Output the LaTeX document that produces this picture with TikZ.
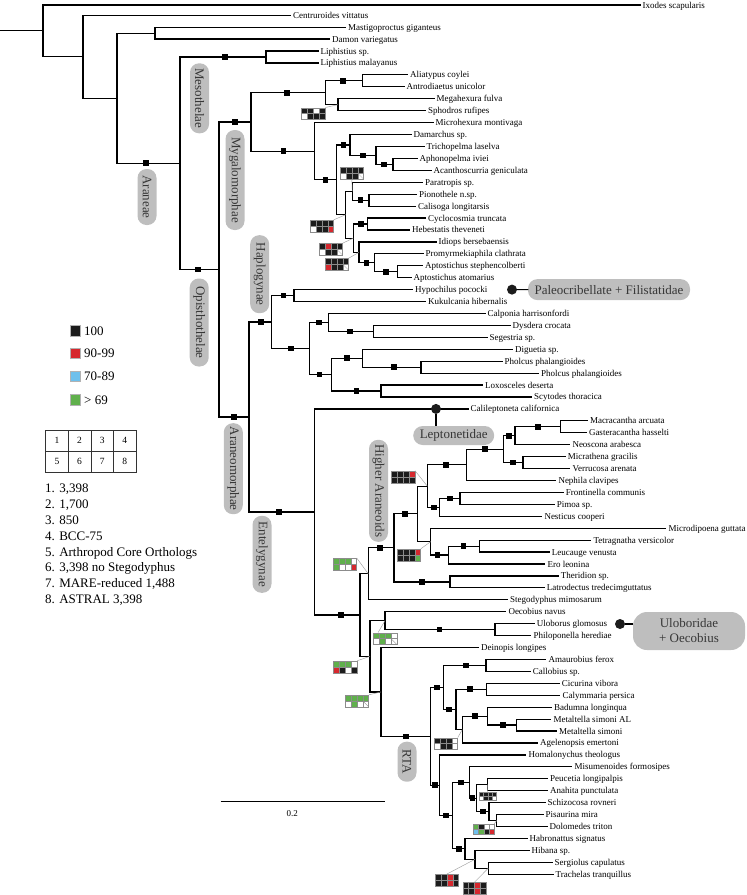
\documentclass[tikz,border=0pt]{standalone}
\usepackage{fontspec}
\setmainfont{Liberation Serif}
\usetikzlibrary{calc}
\definecolor{hK}{RGB}{28,28,28}
\definecolor{hR}{RGB}{214,40,46}
\definecolor{hB}{RGB}{110,192,236}
\definecolor{hG}{RGB}{96,176,76}
\definecolor{hW}{RGB}{255,255,255}
\definecolor{labgray}{RGB}{190,190,190}
\definecolor{labtext}{RGB}{55,55,55}
\definecolor{hmline}{RGB}{140,140,140}
\newcommand\leaf[4]{\coordinate (#1) at (#3,{3.3+(#2-1)*11.93}); \node[lab] (t#1) at (#1) {#4};}
\newcommand\leafy[4]{\coordinate (#1) at (#3,#2); \node[lab] (t#1) at (#1) {#4};}
\newcommand\inode[4]{\path let \p1=($(#3)!0.5!(#4)$) in coordinate (#1) at (#2pt,\y1); \draw[br] (#3) -- (#3 -| #1) -- (#4 -| #1) -- (#4);}
\newcommand\sqm[2]{\path let \p1=(#1) in node[sqn] (s#1) at (#2pt,\y1) {};}
\newcommand\hm[6]{%
 \node[inner sep=0pt, minimum width={4*#4}, minimum height={2*#4}] (#1) at ({#2+2*#4},{#3+#4}) {};
 \foreach \cc [count=\i from 0] in {#5} {
   \filldraw[fill=\cc, draw=hmline, line width=0.3] ({#2+mod(\i,4)*#4},{#3+int(\i/4)*#4}) rectangle ++(#4,#4);
 }
 \ifnum#6=1 \draw[hmline, line width=0.3] ({#2+3*#4},{#3+#4}) -- ++(#4,#4);\fi
}
\begin{document}
\begin{tikzpicture}[x=1pt,y=-1pt,
 br/.style={line width=1.2pt, line cap=rect},
 lab/.style={anchor=base west, inner sep=0pt, xshift=2.5pt, yshift=-3pt, font=\fontsize{9}{10}\selectfont},
 sqn/.style={fill=black, inner sep=0pt, minimum size=5.6pt},
 cn/.style={draw=gray!75, line width=0.45pt},
 clab/.style={fill=labgray, rounded corners=9pt, inner sep=0pt, minimum height=19pt, text=labtext, font=\fontsize{13}{13}\selectfont, rotate=-90},
 hlab/.style={fill=labgray, rounded corners=9.5pt, inner sep=0pt, minimum height=19pt, text=labtext, font=\fontsize{13}{15}\selectfont},
 dot/.style={circle, fill=hK, inner sep=0pt, minimum size=10pt},
 lsq/.style={inner sep=0pt, minimum size=10.5pt, draw=gray!60, line width=0.3pt},
 ltx/.style={anchor=base west, inner sep=0pt, font=\fontsize{13}{15}\selectfont},
 gcell/.style={draw=black!80, line width=0.8pt, minimum width=22.6pt, minimum height=21pt, inner sep=0pt, font=\fontsize{9.5}{10}\selectfont}
]
\useasboundingbox (0,0) rectangle (747,895);
% leaves
\leafy{l1}{5}{640}{Ixodes scapularis}
\leaf{l2}{2}{290.5}{Centruroides vittatus}
\leaf{l3}{3}{345.5}{Mastigoproctus giganteus}
\leaf{l4}{4}{329.5}{Damon variegatus}
\leaf{l5}{5}{318}{Liphistius sp.}
\leaf{l6}{6}{318}{Liphistius malayanus}
\leaf{l7}{7}{407.5}{Aliatypus coylei}
\leaf{l8}{8}{404}{Antrodiaetus unicolor}
\leaf{l9}{9}{434}{Megahexura fulva}
\leaf{l10}{10}{425.5}{Sphodros rufipes}
\leaf{l11}{11}{433}{Microhexura montivaga}
\leaf{l12}{12}{411}{Damarchus sp.}
\leaf{l13}{13}{424}{Trichopelma laselva}
\leaf{l14}{14}{417}{Aphonopelma iviei}
\leaf{l15}{15}{431}{Acanthoscurria geniculata}
\leaf{l16}{16}{422.5}{Paratropis sp.}
\leaf{l17}{17}{416.5}{Pionothele n.sp.}
\leaf{l18}{18}{415.5}{Calisoga longitarsis}
\leaf{l19}{19}{425.5}{Cyclocosmia truncata}
\leaf{l20}{20}{409.5}{Hebestatis theveneti}
\leaf{l21}{21}{436}{Idiops bersebaensis}
\leaf{l22}{22}{423}{Promyrmekiaphila clathrata}
\leaf{l23}{23}{422.5}{Aptostichus stephencolberti}
\leaf{l24}{24}{411}{Aptostichus atomarius}
\leaf{l25}{25}{412.5}{Hypochilus pococki}
\leaf{l26}{26}{425.5}{Kukulcania hibernalis}
\leaf{l27}{27}{485}{Calponia harrisonfordi}
\leaf{l28}{28}{510}{Dysdera crocata}
\leaf{l29}{29}{487}{Segestria sp.}
\leaf{l30}{30}{512.5}{Diguetia sp.}
\leaf{l31}{31}{502}{Pholcus phalangioides}
\leaf{l32}{32}{538.5}{Pholcus phalangioides}
\leaf{l33}{33}{482.5}{Loxosceles deserta}
\leaf{l34}{34}{531.5}{Scytodes thoracica}
\leaf{l35}{35}{468}{Calileptoneta californica}
\leaf{l36}{36}{587.3}{Macracantha arcuata}
\leaf{l37}{37}{586.3}{Gasteracantha hasselti}
\leaf{l38}{38}{569.8}{Neoscona arabesca}
\leaf{l39}{39}{565.2}{Micrathena gracilis}
\leaf{l40}{40}{569.8}{Verrucosa arenata}
\leaf{l41}{41}{555.8}{Nephila clavipes}
\leaf{l42}{42}{563.2}{Frontinella communis}
\leaf{l43}{43}{554.2}{Pimoa sp.}
\leaf{l44}{44}{541.8}{Nesticus cooperi}
\leaf{l45}{45}{665.8}{Microdipoena guttata}
\leaf{l46}{46}{590.8}{Tetragnatha versicolor}
\leaf{l47}{47}{549.2}{Leucauge venusta}
\leaf{l48}{48}{544.8}{Ero leonina}
\leaf{l49}{49}{558.2}{Theridion sp.}
\leaf{l50}{50}{544.2}{Latrodectus tredecimguttatus}
\leaf{l51}{51}{507.5}{Stegodyphus mimosarum}
\leaf{l52}{52}{505.8}{Oecobius navus}
\leaf{l53}{53}{534.2}{Uloborus glomosus}
\leaf{l54}{54}{530.8}{Philoponella herediae}
\leaf{l55}{55}{478.5}{Deinopis longipes}
\leaf{l56}{56}{545.8}{Amaurobius ferox}
\leaf{l57}{57}{530.2}{Callobius sp.}
\leaf{l58}{58}{559.2}{Cicurina vibora}
\leaf{l59}{59}{559.8}{Calymmaria persica}
\leaf{l60}{60}{551.5}{Badumna longinqua}
\leaf{l61}{61}{550.8}{Metaltella simoni AL}
\leaf{l62}{62}{556.5}{Metaltella simoni}
\leaf{l63}{63}{537.5}{Agelenopsis emertoni}
\leaf{l64}{64}{525.8}{Homalonychus theologus}
\leaf{l65}{65}{571.8}{Misumenoides formosipes}
\leaf{l66}{66}{547.5}{Peucetia longipalpis}
\leaf{l67}{67}{547.5}{Anahita punctulata}
\leaf{l68}{68}{545}{Schizocosa rovneri}
\leaf{l69}{69}{543}{Pisaurina mira}
\leaf{l70}{70}{547}{Dolomedes triton}
\leaf{l71}{71}{527}{Habronattus signatus}
\leaf{l72}{72}{529}{Hibana sp.}
\leaf{l73}{73}{552}{Sergiolus capulatus}
\leaf{l74}{74}{553}{Trachelas tranquillus}
% internal nodes
\inode{nmd}{155}{l3}{l4}
\inode{nliph}{266}{l5}{l6}
\inode{nali}{362.3}{l7}{l8}
\inode{nmeg}{338}{l9}{l10}
\inode{nmya}{325.7}{nali}{nmeg}
\inode{naph}{393}{l14}{l15}
\inode{ntri}{376}{l13}{naph}
\inode{ndam}{350}{l12}{ntri}
\inode{npio}{369}{l17}{l18}
\inode{npar}{352.3}{l16}{npio}
\inode{ncyc}{367.3}{l19}{l20}
\inode{napt}{397.3}{l23}{l24}
\inode{npro}{374.3}{l22}{napt}
\inode{nidi}{359}{l21}{npro}
\inode{nci}{353.3}{ncyc}{nidi}
\inode{nll}{345.7}{npar}{nci}
\inode{nbig}{336.7}{ndam}{nll}
\inode{nmyb}{314.7}{l11}{nbig}
\inode{nmyg}{251}{nmya}{nmyb}
\inode{nhyp}{294}{l25}{l26}
\inode{ndys}{373.3}{l28}{l29}
\inode{ncal}{328.3}{l27}{ndys}
\inode{npho}{421}{l31}{l32}
\inode{ndp}{362.5}{l30}{npho}
\inode{nls}{381}{l33}{l34}
\inode{nds}{331.6}{ndp}{nls}
\inode{noth}{309.5}{ncal}{nds}
\inode{nhap}{271.7}{nhyp}{noth}
\inode{nmac}{560.7}{l36}{l37}
\inode{nneo}{515}{nmac}{l38}
\inode{nmic}{523}{l39}{l40}
\inode{narn}{503.5}{nneo}{nmic}
\inode{nneph}{466.7}{narn}{l41}
\inode{nfp}{460}{l42}{l43}
\inode{nlin}{439.3}{nfp}{l44}
\inode{nal}{427.3}{nneph}{nlin}
\inode{ntec}{479.3}{l46}{l47}
\inode{nteb}{448.3}{ntec}{l48}
\inode{ntet}{430.7}{l45}{nteb}
\inode{nar}{417.3}{nal}{ntet}
\inode{nthe}{450}{l49}{l50}
\inode{nha}{394}{nar}{nthe}
\inode{nup}{368.3}{nha}{l51}
\inode{nulo}{495}{l53}{l54}
\inode{noec}{385}{l52}{nulo}
\inode{nam}{486}{l56}{l57}
\inode{ncic}{486.7}{l58}{l59}
\inode{nmet}{516.7}{l61}{l62}
\inode{nbad}{487.3}{l60}{nmet}
\inode{nbag}{462.3}{nbad}{l63}
\inode{ncb}{456}{ncic}{nbag}
\inode{nru}{443.3}{nam}{ncb}
\inode{npea}{487.3}{l66}{l67}
\inode{npd}{496.7}{l69}{l70}
\inode{nspd}{489}{l68}{npd}
\inode{npa}{476.7}{npea}{nspd}
\inode{nmis}{469.3}{l65}{npa}
\inode{nst}{488.3}{l73}{l74}
\inode{nhib}{475}{l72}{nst}
\inode{nhab}{465}{l71}{nhib}
\inode{nrb}{452.3}{nmis}{nhab}
\inode{nrl}{439.3}{l64}{nrb}
\inode{nrta}{430.5}{nru}{nrl}
\inode{ndr}{381}{l55}{nrta}
\inode{nlo}{370}{noec}{ndr}
\inode{ner}{360}{nup}{nlo}
\inode{nent}{314.4}{l35}{ner}
\inode{naranm}{249}{nhap}{nent}
\inode{nopis}{219}{nmyg}{naranm}
\inode{naraneae}{180}{nliph}{nopis}
\inode{ntetra}{117}{nmd}{naraneae}
\inode{narach}{83}{l2}{ntetra}
\inode{nroot}{43}{l1}{narach}
\coordinate (rootstub) at (0,30);
\draw[br] (nroot) -- (nroot -| rootstub);
% support squares
\sqm{nliph}{225} \sqm{naraneae}{146} \sqm{nopis}{198} \sqm{nmyg}{235}
\sqm{nmya}{286.7} \sqm{nali}{343} \sqm{nmyb}{283.3} \sqm{nbig}{325.3}
\sqm{ndam}{343.3} \sqm{ntri}{362.7} \sqm{naph}{384} \sqm{npio}{360.3}
\sqm{ncyc}{361} \sqm{npro}{366.3} \sqm{napt}{386} \sqm{naranm}{234}
\sqm{nhap}{260.7} \sqm{nhyp}{283.3} \sqm{noth}{291} \sqm{ncal}{319}
\sqm{ndys}{350} \sqm{nds}{319.6} \sqm{ndp}{347} \sqm{npho}{394}
\sqm{nls}{356.5} \sqm{nent}{279} \sqm{ner}{341} \sqm{nha}{379.7}
\sqm{nar}{405} \sqm{nneph}{445.7} \sqm{narn}{485} \sqm{nneo}{509}
\sqm{nmac}{538} \sqm{nmic}{513} \sqm{nlin}{434} \sqm{nfp}{450}
\sqm{nteb}{437.3} \sqm{ntec}{463.3} \sqm{nthe}{421.7} \sqm{nulo}{439.3}
\sqm{nrta}{406} \sqm{nru}{436.7} \sqm{nam}{466} \sqm{ncb}{449}
\sqm{ncic}{470} \sqm{nbad}{475} \sqm{nmet}{502.7} \sqm{nrl}{435}
\sqm{nrb}{445.7} \sqm{nmis}{460.7} \sqm{npa}{472.5} \sqm{nspd}{482.7}
\sqm{nhab}{459}
% heatmaps
\hm{hA}{301.5}{107.7}{5.9}{hK,hK,hW,hK,hW,hK,hK,hK}{0}
\hm{hB}{340}{167.3}{5.9}{hK,hK,hK,hK,hW,hK,hK,hW}{1}
\hm{hC}{310}{220}{5.9}{hK,hK,hK,hK,hW,hK,hK,hR}{0}
\hm{hD}{319}{243.3}{5.9}{hK,hR,hK,hK,hW,hK,hK,hW}{1}
\hm{hE}{325}{258.3}{5.9}{hK,hK,hK,hK,hR,hK,hK,hW}{1}
\hm{hF}{391.3}{471}{5.9}{hK,hK,hK,hR,hK,hK,hK,hK}{0}
\hm{hG}{397}{549}{5.9}{hK,hK,hK,hR,hK,hK,hK,hG}{0}
\hm{hH}{333}{558.3}{5.9}{hG,hG,hG,hW,hG,hW,hW,hR}{0}
\hm{hI}{373.3}{632.7}{5.9}{hG,hG,hG,hW,hW,hG,hW,hW}{1}
\hm{hJ}{333.3}{661}{5.9}{hG,hG,hG,hW,hR,hK,hW,hK}{0}
\hm{hK}{345}{695}{5.9}{hG,hG,hG,hG,hW,hG,hW,hW}{1}
\hm{hL}{434}{737.7}{5.9}{hK,hK,hK,hW,hW,hK,hK,hW}{0}
\hm{hM}{479.3}{791.7}{4.2}{hK,hK,hK,hK,hW,hK,hK,hW}{0}
\hm{hN}{473.3}{824}{5.2}{hG,hK,hW,hW,hB,hG,hK,hR}{0}
\hm{hO}{435}{874.3}{5.9}{hK,hK,hR,hK,hK,hK,hR,hK}{0}
\hm{hP}{462.7}{882.3}{5.9}{hK,hK,hR,hK,hK,hK,hR,hK}{0}
\draw[cn] (hA.north east) -- (nmeg);
\draw[cn] (hB.south) -- (npar);
\draw[cn] (hC.north east) -- (nll);
\draw[cn] (hD.north east) -- (nci);
\draw[cn] (hE.north east) -- (nidi);
\draw[cn] (hF.north east) -- (nal);
\draw[cn] (hG.north east) -- (ntet);
\draw[cn] (hH.north east) -- (nup);
\draw[cn] ($(hI.north west)+(5,0)$) -- (noec);
\draw[cn] (hJ.north east) -- (nlo);
\draw[cn] (hK.north east) -- (ndr);
\draw[cn] (hL.north east) -- (nbag);
\draw[cn] (hM.north) -- (npea);
\draw[cn] (hN.north east) -- (npd);
\draw[cn] (hO.north) -- (nhib);
\draw[cn] (hP.north) -- (nst);
% clade labels
\node[clab, minimum width=56pt] (cAraneae) at (147,197) {Araneae};
\node[clab, minimum width=70pt] (cMeso) at (199.5,98.3) {Mesothelae};
\node[clab, minimum width=100pt] (cMyga) at (235,180) {Mygalomorphae};
\node[clab, minimum width=78pt] (cHaplo) at (259.7,274.2) {Haplogynae};
\node[clab, minimum width=88pt] (cOpis) at (199.2,322.5) {Opisthothelae};
\node[clab, minimum width=91pt] (cAranm) at (233.3,468.7) {Araneomorphae};
\node[clab, minimum width=77pt] (cEnt) at (262,554.3) {Entelygynae};
\node[clab, minimum width=102pt] (cHA) at (378.5,490.8) {Higher Araneoids};
\node[clab, minimum width=40pt] (cRTA) at (407,761.7) {RTA};
% Leptonetidae
\node[dot] (dlep) at (436,408.92) {};
\node[hlab, minimum width=81pt] (blep) at (453.7,435.5) {Leptonetidae};
\draw[br] (dlep) -- (dlep |- blep.north);
% Paleocribellate
\node[dot] (dpal) at (512,289.62) {};
\node[hlab, minimum width=162pt, minimum height=21pt] (bpal) at (609,289.6) {Paleocribellate + Filistatidae};
\draw[br] (dpal) -- (bpal.west);
% Uloboridae
\node[dot] (dulo) at (620,624) {};
\node[hlab, minimum width=112pt, minimum height=38pt, align=center, rounded corners=14pt] (bulo) at (689,631) {Uloboridae\\+ Oecobius};
\draw[br] (dulo) -- (bulo.west |- dulo);
% legend
\node[lsq, fill=hK] (lg1) at (75.3,330.8) {};
\node[ltx] (lt1) at (84,335.3) {100};
\node[lsq, fill=hR] (lg2) at (75.3,353.3) {};
\node[ltx] (lt2) at (84,357.8) {90-99};
\node[lsq, fill=hB] (lg3) at (75.3,376) {};
\node[ltx] (lt3) at (84,380.5) {70-89};
\node[lsq, fill=hG] (lg4) at (75.3,399.7) {};
\node[ltx] (lt4) at (84,404.2) {> 69};
\node[gcell] (g1) at (57,440.5) {1};
\node[gcell] (g2) at (79.6,440.5) {2};
\node[gcell] (g3) at (102.2,440.5) {3};
\node[gcell] (g4) at (124.8,440.5) {4};
\node[gcell] (g5) at (57,461.5) {5};
\node[gcell] (g6) at (79.6,461.5) {6};
\node[gcell] (g7) at (102.2,461.5) {7};
\node[gcell] (g8) at (124.8,461.5) {8};
\node[ltx] (li1) at (45,492.6) {1. 3,398};
\node[ltx] (li2) at (45,508.4) {2. 1,700};
\node[ltx] (li3) at (45,524.3) {3. 850};
\node[ltx] (li4) at (45,540.1) {4. BCC-75};
\node[ltx] (li5) at (45,556) {5. Arthropod Core Orthologs};
\node[ltx] (li6) at (45,571.9) {6. 3,398 no Stegodyphus};
\node[ltx] (li7) at (45,587.7) {7. MARE-reduced 1,488};
\node[ltx] (li8) at (45,603.6) {8. ASTRAL 3,398};
% scale bar
\coordinate (sba) at (220.7,801.7);
\coordinate (sbb) at (385,801.7);
\draw[line width=1.1pt] (sba) -- (sbb);
\node[font=\fontsize{9}{10}\selectfont, inner sep=0pt] (sbl) at (292.3,814) {0.2};
\end{tikzpicture}
\end{document}
